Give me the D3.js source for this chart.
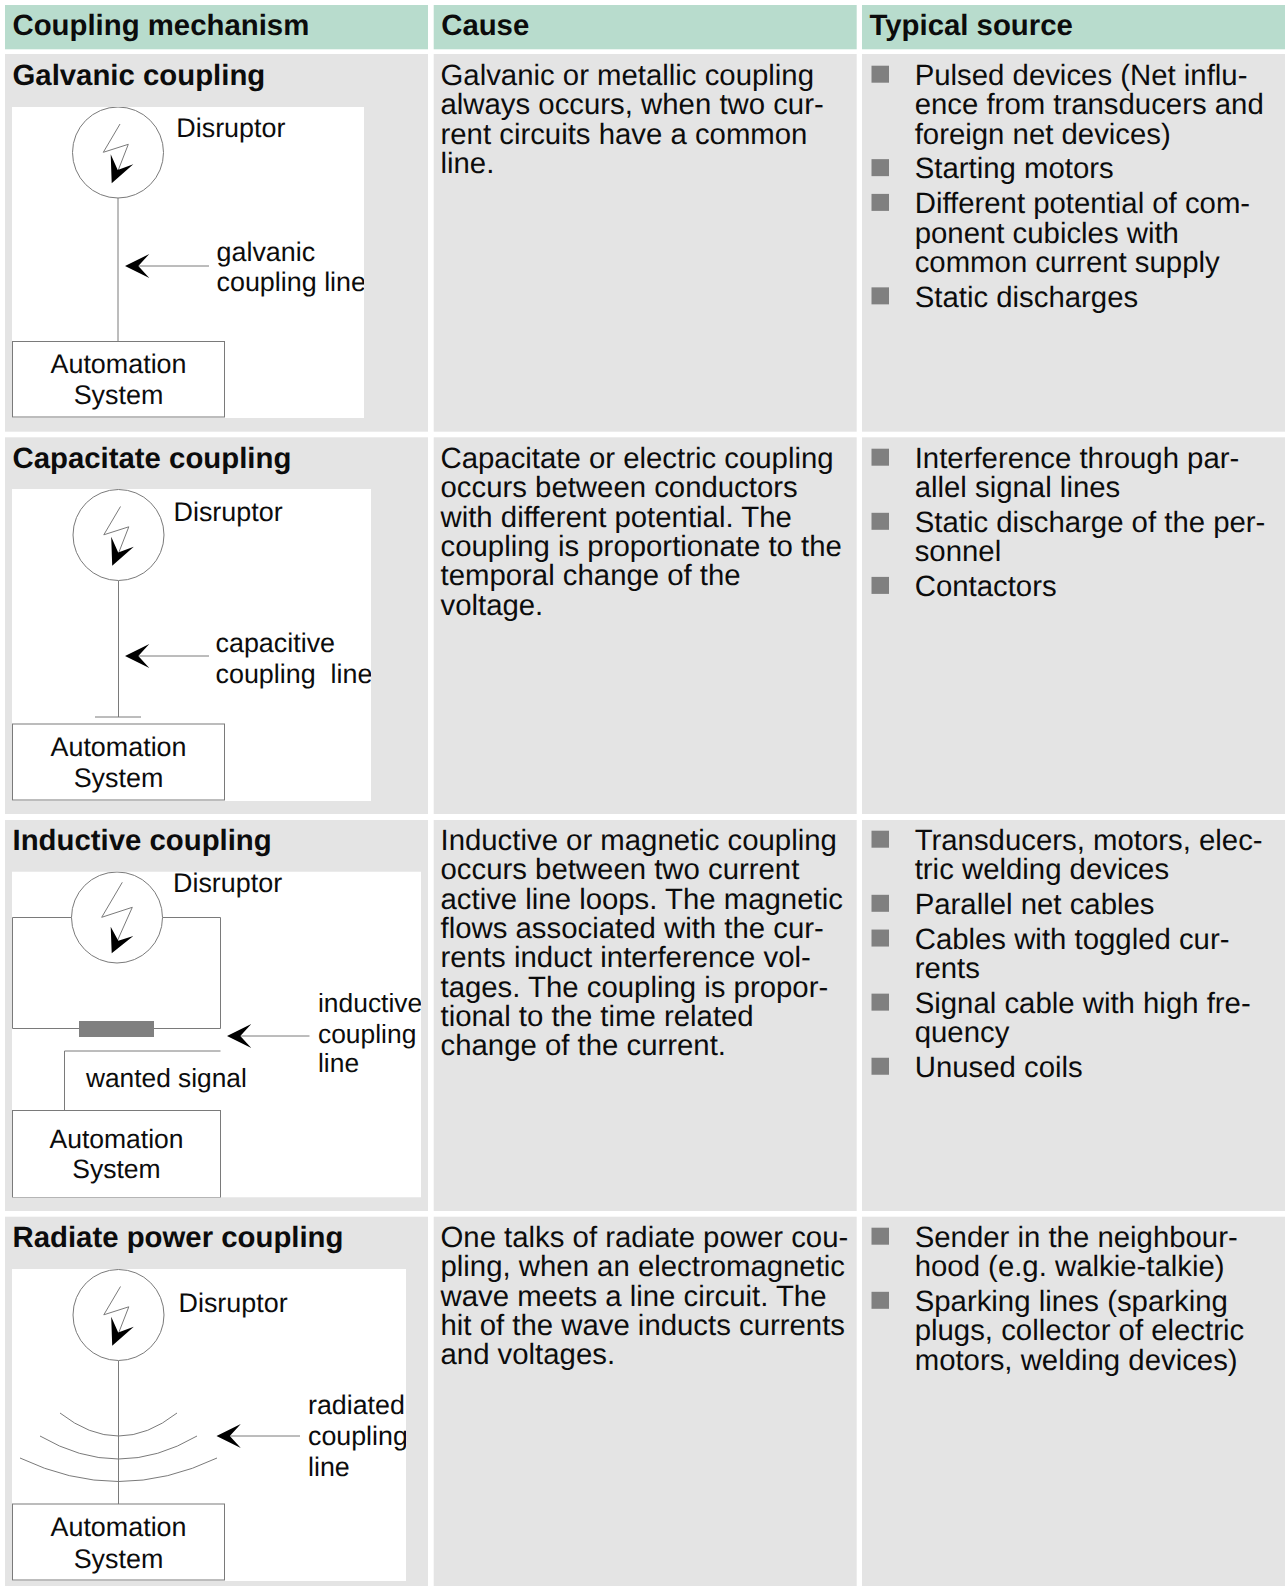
<!DOCTYPE html>
<html><head><meta charset="utf-8">
<script src="https://cdn.jsdelivr.net/npm/d3@7"></script>
<style>html,body{margin:0;padding:0;background:#fff}svg{display:block}text{font-family:"Liberation Sans",Arial,sans-serif;fill:#0c0c0c;text-rendering:geometricPrecision}</style>
</head><body><svg id="c" width="1285" height="1586"></svg>
<script>
const headers=["Coupling mechanism","Cause","Typical source"];
const mechanisms=["Galvanic coupling","Capacitate coupling","Inductive coupling","Radiate power coupling"];
const causes=[
["Galvanic or metallic coupling","always occurs, when two cur-","rent circuits have a common","line."],
["Capacitate or electric coupling","occurs between conductors","with different potential. The","coupling is proportionate to the","temporal change of the","voltage."],
["Inductive or magnetic coupling","occurs between two current","active line loops. The magnetic","flows associated with the cur-","rents induct interference vol-","tages. The coupling is propor-","tional to the time related","change of the current."],
["One talks of radiate power cou-","pling, when an electromagnetic","wave meets a line circuit. The","hit of the wave inducts currents","and voltages."]];
const sources=[
[["Pulsed devices (Net influ-","ence from transducers and","foreign net devices)"],["Starting motors"],["Different potential of com-","ponent cubicles with","common current supply"],["Static discharges"]],
[["Interference through par-","allel signal lines"],["Static discharge of the per-","sonnel"],["Contactors"]],
[["Transducers, motors, elec-","tric welding devices"],["Parallel net cables"],["Cables with toggled cur-","rents"],["Signal cable with high fre-","quency"],["Unused coils"]],
[["Sender in the neighbour-","hood (e.g. walkie-talkie)"],["Sparking lines (sparking","plugs, collector of electric","motors, welding devices)"]]];
const diagramLabels=[["galvanic","coupling line"],["capacitive","coupling  line"],["inductive","coupling","line"],["radiated","coupling","line"]];
const boxLabels=["Automation","System"];
const disruptor="Disruptor", wanted="wanted signal";

const colX=[5,433.7,862], colW=[423,423,423];
const rowTop=[54,437.3,820,1216.7], rowBot=[431.7,814,1211,1586], baseY=[85,468,850,1247];
const LH=29.35, GAP=5.4, FS=29.35;
const geo=[
{r:[12,107,352,311],c:[118,152.5],d:[176.3,137.3],l:[[118,198],[118,341]],arrow:[125,266,209],lab:[216.5,[260.5,291.2]],lfs:26.9,box:[12.5,341.5,212,75.5],bt:[118.5,373.2,403.5],bfs:26.9},
{r:[12,489,359,312],c:[118.5,535],d:[173.5,520.7],l:[[118.5,581],[118.5,717]],g:[[95,717],[141,717]],arrow:[125,656,209],lab:[215.5,[652,683.2]],lfs:26.9,box:[12.5,724,212,76],bt:[118.5,756.3,787.2],bfs:26.9},
{r:[12,871.5,409,326],c:[117,917.5],d:[173,892.2],arrow:[227,1036,309.5],lab:[318,[1012.2,1042.5,1072.2]],lfs:26.4,box:[12.5,1110.5,208,87],bt:[116.5,1147.5,1178.2],bfs:26.5},
{r:[12,1269,394,312],c:[118.5,1315],d:[178.5,1311.7],l:[[118.5,1361],[118.5,1504]],arrow:[216.5,1436,300],lab:[308,[1414.2,1445.2,1475.5]],lfs:26.8,box:[12.5,1504,212,76],bt:[118.5,1536.2,1567.5],bfs:26.9}];
const loops=[[[71.5,917.5],[12.5,917.5],[12.5,1028.5],[79,1028.5]],[[162.5,917.5],[220.5,917.5],[220.5,1028.5],[154,1028.5]],[[220.5,1051],[64.5,1051],[64.5,1110]]];
const coil=[79,1021,75,16];
const arcs=[[[60,1413],[118.5,1436],[177,1413]],[[40,1436],[118.5,1459],[197,1436]],[[20,1458],[118.5,1481.5],[217,1458]]];
const boltSmall=[[2,-28.5],[-14.7,-0.2],[10.3,-8.2],[0.3,17.5]], headSmall=[[-6.3,30.8],[-7.3,1.8],[-0.3,17.5],[15.3,11.8]];
const boltLarge=[[5.3,-35.2],[-15.3,-0.2],[15.3,-10.2],[0.7,22.5]], headLarge=[[-5.3,35.8],[-6.3,9.2],[1.3,23.2],[16.3,18.5]];

const svg=d3.select("#c");
const line=d3.line();
const STROKE="#7a7a7a";
svg.selectAll(".h").data(headers).join("rect").attr("x",(d,i)=>colX[i]).attr("y",5).attr("width",(d,i)=>colW[i]).attr("height",44.3).attr("fill","#b8dccd");
svg.selectAll(".ht").data(headers).join("text").attr("x",(d,i)=>colX[i]+7.5).attr("y",35).attr("font-size",FS).attr("font-weight","bold").text(d=>d);
mechanisms.forEach((m,i)=>{
  colX.forEach((x,k)=>svg.append("rect").attr("x",x).attr("y",rowTop[i]).attr("width",colW[k]).attr("height",rowBot[i]-rowTop[i]).attr("fill","#e4e4e4"));
  svg.append("text").attr("x",12.5).attr("y",baseY[i]).attr("font-size",FS).attr("font-weight","bold").text(m);
  svg.append("g").selectAll("text").data(causes[i]).join("text").attr("x",440.5).attr("y",(d,k)=>baseY[i]+k*LH).attr("font-size",FS).text(d=>d);
  let y=baseY[i];
  sources[i].forEach(p=>{
    svg.append("rect").attr("x",871.5).attr("y",y-19.3).attr("width",17.5).attr("height",17).attr("fill","#808080");
    p.forEach((t,k)=>svg.append("text").attr("x",914.7).attr("y",y+k*LH).attr("font-size",FS).text(t));
    y+=p.length*LH+GAP;
  });
  const g=geo[i], G=svg.append("g");
  const cid="clip"+i;
  svg.append("clipPath").attr("id",cid).append("rect").attr("x",g.r[0]).attr("y",g.r[1]).attr("width",g.r[2]).attr("height",g.r[3]);
  G.attr("clip-path",`url(#${cid})`);
  G.append("rect").attr("x",g.r[0]).attr("y",g.r[1]).attr("width",g.r[2]).attr("height",g.r[3]).attr("fill","#fff");
  const path=(pts)=>G.append("path").attr("d",line(pts)).attr("fill","none").attr("stroke",STROKE).attr("stroke-width",1);
  if(g.l) path(g.l);
  if(g.g) path(g.g);
  if(i===2){loops.forEach(p=>path(p));G.append("rect").attr("x",coil[0]).attr("y",coil[1]).attr("width",coil[2]).attr("height",coil[3]).attr("fill","#808080");}
  if(i===3) arcs.forEach(a=>{const p=d3.path();p.moveTo(a[0][0],a[0][1]);p.quadraticCurveTo(a[1][0],2*a[1][1]-(a[0][1]+a[2][1])/2,a[2][0],a[2][1]);G.append("path").attr("d",p.toString()).attr("fill","none").attr("stroke",STROKE);});
  G.append("circle").attr("cx",g.c[0]).attr("cy",g.c[1]).attr("r",45.5).attr("fill","#fff").attr("stroke",STROKE);
  const bolt=i===2?boltLarge:boltSmall, head=i===2?headLarge:headSmall;
  path(bolt.map(p=>[g.c[0]+p[0],g.c[1]+p[1]]));
  G.append("path").attr("d",line(head.map(p=>[g.c[0]+p[0],g.c[1]+p[1]]))+"Z").attr("fill","#000");
  const [ax,ay,ae]=g.arrow;
  path([[ax+10,ay],[ae,ay]]);
  G.append("path").attr("d",line([[ax,ay],[ax+24.3,ay-12],[ax+13.3,ay],[ax+24.3,ay+12]])+"Z").attr("fill","#000");
  G.append("text").attr("x",g.d[0]).attr("y",g.d[1]).attr("font-size",26.9).text(disruptor);
  diagramLabels[i].forEach((t,k)=>G.append("text").style("white-space","pre").attr("x",g.lab[0]).attr("y",g.lab[1][k]).attr("font-size",g.lfs).text(t));
  G.append("rect").attr("x",g.box[0]).attr("y",g.box[1]).attr("width",g.box[2]).attr("height",g.box[3]).attr("fill","#fff").attr("stroke",STROKE);
  boxLabels.forEach((t,k)=>G.append("text").attr("x",g.bt[0]).attr("y",g.bt[k+1]).attr("text-anchor","middle").attr("font-size",g.bfs).text(t));
  if(i===2) G.append("text").attr("x",86).attr("y",1087.3).attr("font-size",26.3).text(wanted);
});
</script></body></html>
